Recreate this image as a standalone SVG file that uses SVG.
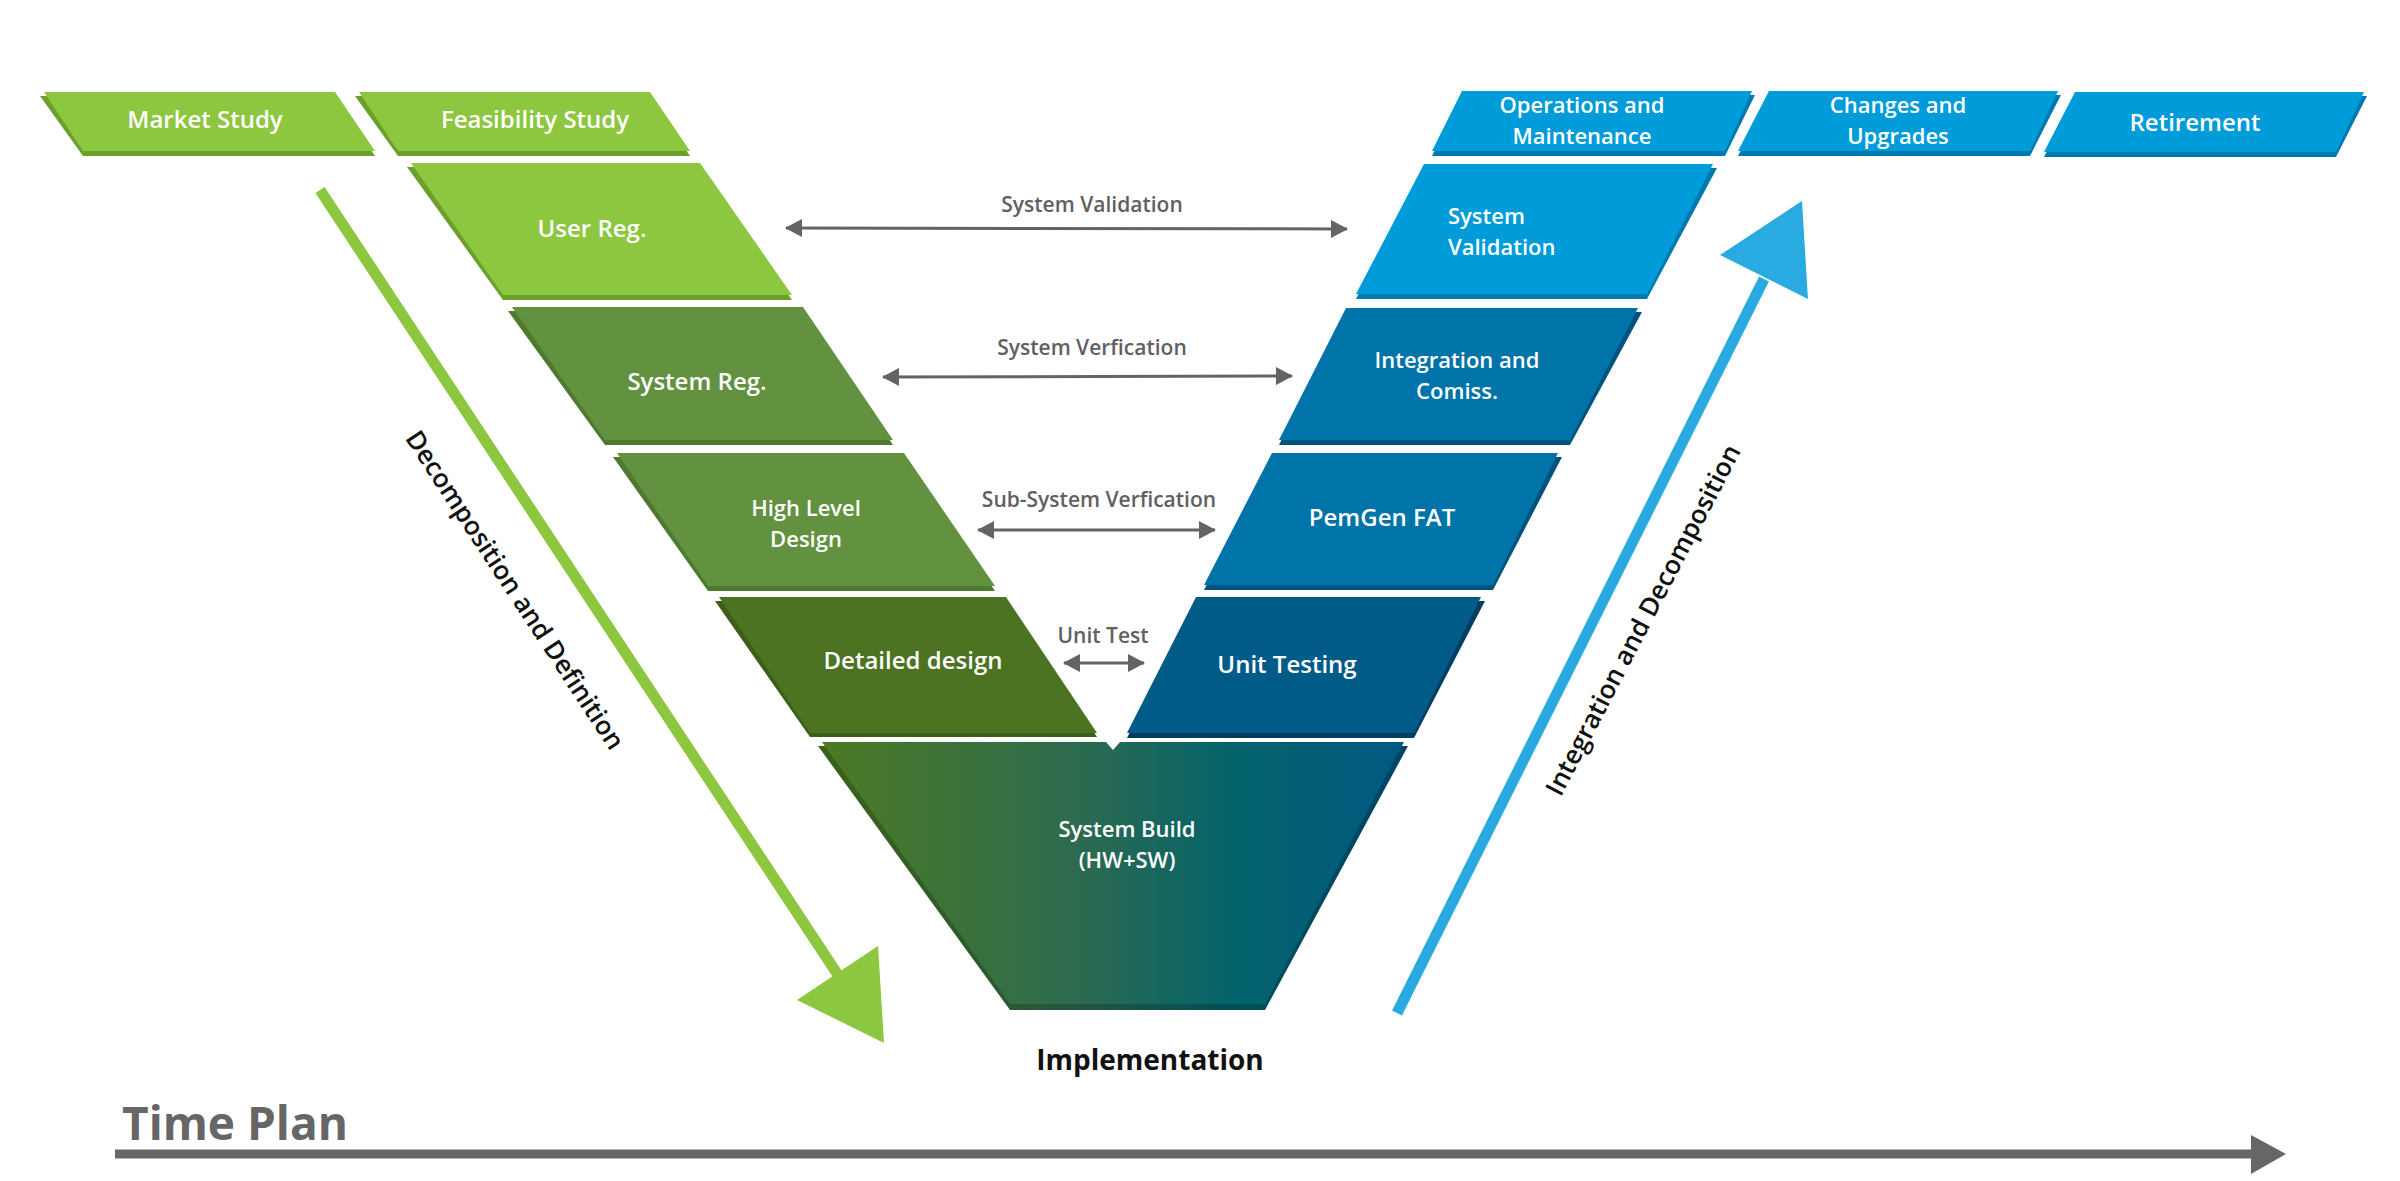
<svg xmlns="http://www.w3.org/2000/svg" width="2400" height="1181" viewBox="0 0 2400 1181">
<defs>
<style>
.t{font-family:"Open Sans","Liberation Sans",sans-serif;font-weight:600;font-size:24px;fill:#ffffff;text-anchor:middle}
.t2{font-family:"Open Sans","Liberation Sans",sans-serif;font-weight:600;font-size:22px;fill:#ffffff;text-anchor:middle}
.lbl{font-family:"Open Sans","Liberation Sans",sans-serif;font-weight:600;font-size:21px;fill:#5f6062;text-anchor:middle}
.side{font-family:"Open Sans","Liberation Sans",sans-serif;font-weight:600;font-size:26px;fill:#111111;text-anchor:middle}
.g1{fill:#8dc63f}.g1s{fill:#6c9f2c}
.g2{fill:#629140}.g2s{fill:#4e7a30}
.g3{fill:#4b7322}.g3s{fill:#3c5e19}
.b1{fill:#009bd9}.b1s{fill:#0079b0}
.b2{fill:#0074a8}.b2s{fill:#00537f}
.b3{fill:#005b88}.b3s{fill:#003f61}
.conn{stroke:#636466;stroke-width:3;fill:none;marker-start:url(#ah);marker-end:url(#ah)}
</style>
<marker id="ah" viewBox="0 0 17 18" refX="16" refY="9" markerWidth="17" markerHeight="18" markerUnits="userSpaceOnUse" orient="auto-start-reverse">
<path d="M0,0 L17,9 L0,18 z" fill="#636466"/>
</marker>
<linearGradient id="sb" gradientUnits="userSpaceOnUse" x1="822" y1="0" x2="1404" y2="0">
<stop offset="0" stop-color="#4c7a22"/>
<stop offset="0.45" stop-color="#2c6a50"/>
<stop offset="0.7" stop-color="#03636a"/>
<stop offset="1" stop-color="#005982"/>
</linearGradient>
<linearGradient id="sbs" gradientUnits="userSpaceOnUse" x1="822" y1="0" x2="1404" y2="0">
<stop offset="0" stop-color="#3b6219"/>
<stop offset="0.45" stop-color="#22553f"/>
<stop offset="0.7" stop-color="#024f55"/>
<stop offset="1" stop-color="#004468"/>
</linearGradient>
</defs>
<rect width="2400" height="1181" fill="#ffffff"/>

<g id="flow-arrows">
<line x1="320" y1="190" x2="838" y2="975" stroke="#8dc63f" stroke-width="11"/>
<polygon points="878,946 797,1000 884,1043" fill="#8dc63f"/>
<line x1="1397" y1="1013" x2="1764" y2="279" stroke="#29abe2" stroke-width="11"/>
<polygon points="1802,201 1720,255 1808,299" fill="#29abe2"/>
<line x1="115" y1="1154" x2="2255" y2="1154" stroke="#666666" stroke-width="9"/>
<polygon points="2251,1135 2286,1154 2251,1174" fill="#666666"/>
</g>

<g id="market-study">
<polygon class="g1s" points="40,96 335,96 375,156 83,156"/>
<polygon class="g1" points="44,92 335,92 375,151 83,151"/>
<text class="t" x="205" y="128">Market Study</text>
</g>
<g id="feasibility-study">
<polygon class="g1s" points="355,96 650,96 690,156 398,156"/>
<polygon class="g1" points="359,92 650,92 690,151 398,151"/>
<text class="t" x="535" y="128">Feasibility Study</text>
</g>
<g id="user-req">
<polygon class="g1s" points="407,167 700,167 792,300 503,300"/>
<polygon class="g1" points="411,163 700,163 792,295 503,295"/>
<text class="t" x="592" y="237">User Reg.</text>
</g>
<g id="system-req">
<polygon class="g2s" points="508,311 803,311 893,445 605,445"/>
<polygon class="g2" points="512,307 803,307 893,440 605,440"/>
<text class="t" x="697" y="390">System Reg.</text>
</g>
<g id="high-level-design">
<polygon class="g2s" points="613,457 904,457 995,591 708,591"/>
<polygon class="g2" points="617,453 904,453 995,586 708,586"/>
<text class="t2" x="806" y="516">High Level</text>
<text class="t2" x="806" y="547">Design</text>
</g>
<g id="detailed-design">
<polygon class="g3s" points="715,601 1006,601 1097,737 810,737"/>
<polygon class="g3" points="719,597 1006,597 1097,733 810,733"/>
<text class="t" x="913" y="669">Detailed design</text>
</g>

<g id="operations">
<polygon class="b1s" points="1462,95 1755,95 1725,156 1432,156"/>
<polygon class="b1" points="1462,91 1752,91 1725,151 1432,151"/>
<text class="t2" x="1582" y="113">Operations and</text>
<text class="t2" x="1582" y="144">Maintenance</text>
</g>
<g id="changes">
<polygon class="b1s" points="1769,95 2061,95 2030,156 1738,156"/>
<polygon class="b1" points="1769,91 2058,91 2030,151 1738,151"/>
<text class="t2" x="1898" y="113">Changes and</text>
<text class="t2" x="1898" y="144">Upgrades</text>
</g>
<g id="retirement">
<polygon class="b1s" points="2075,96 2367,96 2336,157 2044,157"/>
<polygon class="b1" points="2075,92 2364,92 2336,152 2044,152"/>
<text class="t" x="2195" y="131">Retirement</text>
</g>
<g id="system-validation">
<polygon class="b1s" points="1424,168 1717,168 1647,299 1356,299"/>
<polygon class="b1" points="1424,164 1713,164 1647,294 1356,294"/>
<text class="t2" x="1448" y="224" style="text-anchor:start">System</text>
<text class="t2" x="1448" y="255" style="text-anchor:start">Validation</text>
</g>
<g id="integration">
<polygon class="b2s" points="1346,312 1642,312 1570,445 1279,445"/>
<polygon class="b2" points="1346,308 1638,308 1570,440 1279,440"/>
<text class="t2" x="1457" y="368">Integration and</text>
<text class="t2" x="1457" y="399">Comiss.</text>
</g>
<g id="pemgen-fat">
<polygon class="b2s" points="1272,457 1562,457 1493,590 1204,590"/>
<polygon class="b2" points="1272,453 1558,453 1493,585 1204,585"/>
<text class="t" x="1382" y="526">PemGen FAT</text>
</g>
<g id="unit-testing">
<polygon class="b3s" points="1196,601 1485,601 1414,738 1127,738"/>
<polygon class="b3" points="1196,597 1481,597 1414,733 1127,733"/>
<text class="t" x="1287" y="673">Unit Testing</text>
</g>

<g id="system-build">
<polygon fill="url(#sbs)" points="818,746 1106,746 1113,754 1120,746 1408,746 1265,1010 1010,1010"/>
<polygon fill="url(#sb)" points="822,742 1106,742 1113,750 1120,742 1404,742 1265,1004 1010,1004"/>
<text class="t2" x="1127" y="837">System Build</text>
<text class="t2" x="1127" y="868">(HW+SW)</text>
</g>

<g id="connectors">
<line class="conn" x1="786" y1="228" x2="1347" y2="229"/>
<line class="conn" x1="883" y1="377" x2="1292" y2="376"/>
<line class="conn" x1="978" y1="530" x2="1215" y2="530"/>
<line class="conn" x1="1064" y1="663" x2="1144" y2="663"/>
</g>

<g id="labels">
<text class="lbl" x="1092" y="212">System Validation</text>
<text class="lbl" x="1092" y="355">System Verfication</text>
<text class="lbl" x="1099" y="507">Sub-System Verfication</text>
<text class="lbl" x="1103" y="643">Unit Test</text>
<text class="side" transform="translate(515,590) rotate(56.7)" y="9">Decomposition and Definition</text>
<text class="side" transform="translate(1643,620) rotate(-62.5)" y="9">Integration and Decomposition</text>
<text x="1150" y="1070" style="font-family:'Open Sans','Liberation Sans',sans-serif;font-weight:700;font-size:28px;fill:#111111;text-anchor:middle">Implementation</text>
<text x="122" y="1140" style="font-family:'Open Sans','Liberation Sans',sans-serif;font-weight:700;font-size:46px;fill:#666666">Time Plan</text>
</g>
</svg>
